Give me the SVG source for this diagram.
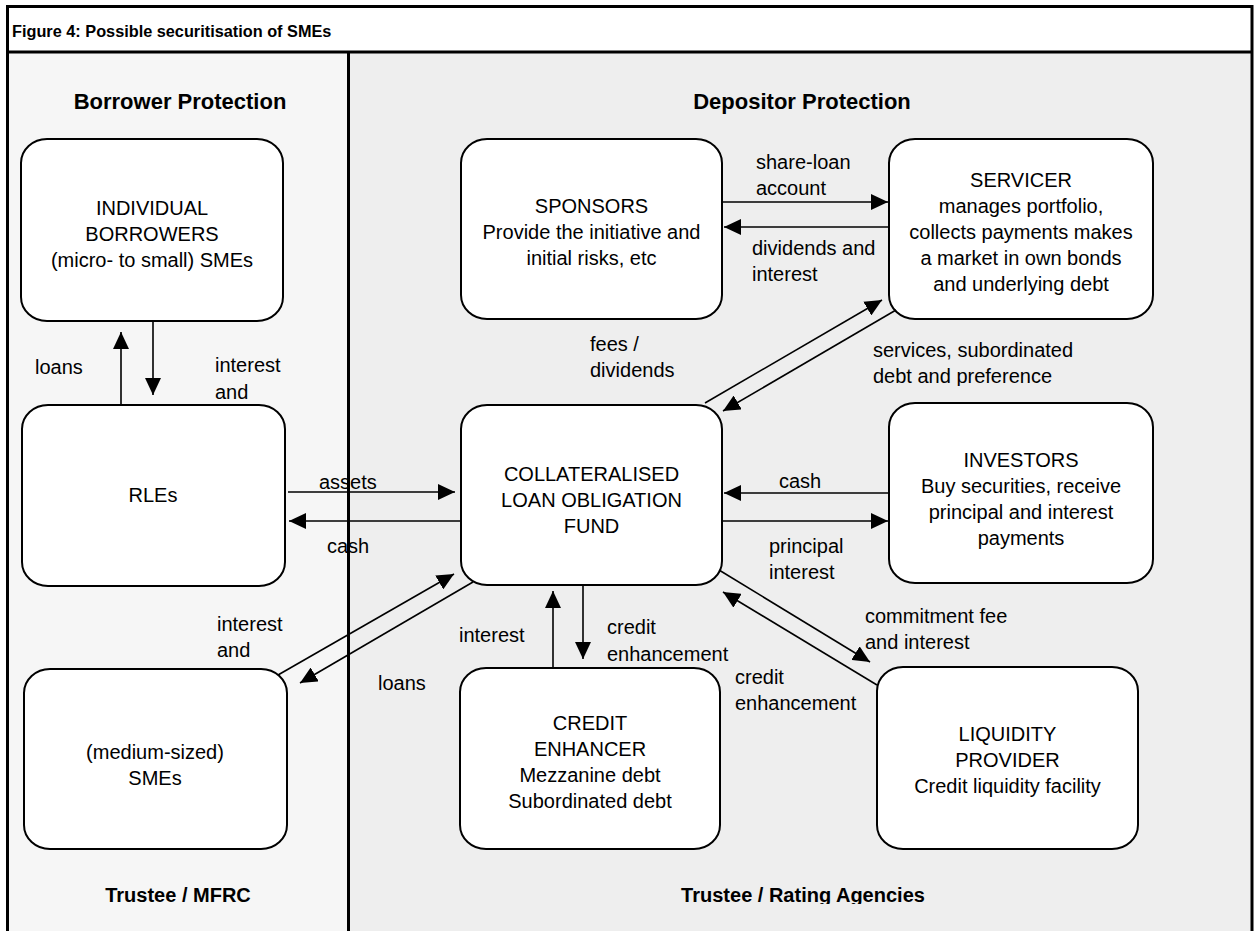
<svg xmlns="http://www.w3.org/2000/svg" width="1255" height="931" viewBox="0 0 1255 931">
<style>
  text { font-family: "Liberation Sans", Arial, Helvetica, sans-serif; fill: #000; }
  .title { font-size: 16.3px; font-weight: bold; }
  .head { font-size: 22px; font-weight: bold; text-anchor: middle; }
  .foot { font-size: 20px; font-weight: bold; text-anchor: middle; }
  .node rect { fill: #fff; stroke: #000; stroke-width: 2; }
  .node text { font-size: 20px; text-anchor: middle; }
  .lbl { font-size: 20px; }
  .conn line { stroke: #000; stroke-width: 1.6; marker-end: url(#arr); }
  .frame { fill: none; stroke: #000; stroke-width: 3; }
</style>
<defs>
  <marker id="arr" viewBox="0 0 17 16" refX="17" refY="8" markerWidth="17" markerHeight="16" markerUnits="userSpaceOnUse" orient="auto">
    <path d="M0,0 L17,8 L0,16 z" fill="#000"/>
  </marker>
  <clipPath id="clipPref"><rect x="860" y="330" width="300" height="56"/></clipPath>
  <clipPath id="clipFoot"><rect x="0" y="860" width="1255" height="44"/></clipPath>
</defs>

<!-- backgrounds -->
<rect x="0" y="0" width="1255" height="931" fill="#fff"/>
<rect x="7" y="52" width="341" height="879" fill="#f6f6f6"/>
<rect x="348" y="52" width="904" height="879" fill="#eeeeee"/>
<rect x="7" y="6" width="1245" height="46" fill="#fff"/>

<!-- frame -->
<g id="frame">
  <path class="frame" d="M7.5,931 V6.5 H1252 V931"/>
  <line x1="7" y1="52" x2="1252" y2="52" stroke="#000" stroke-width="3"/>
  <line x1="348.5" y1="52" x2="348.5" y2="931" stroke="#000" stroke-width="3"/>
</g>

<text class="title" x="12" y="37">Figure 4: Possible securitisation of SMEs</text>
<text class="head" x="180" y="109">Borrower Protection</text>
<text class="head" x="802" y="109">Depositor Protection</text>
<g clip-path="url(#clipFoot)">
  <text class="foot" x="178" y="902">Trustee / MFRC</text>
  <text class="foot" x="803" y="902">Trustee / Rating Agencies</text>
</g>

<!-- nodes -->
<g id="individual" class="node">
  <rect x="21" y="139" width="262" height="182" rx="26" ry="24"/>
  <text x="152" y="215">INDIVIDUAL</text>
  <text x="152" y="241">BORROWERS</text>
  <text x="152" y="267">(micro- to small) SMEs</text>
</g>
<g id="rles" class="node">
  <rect x="22" y="405" width="263" height="181" rx="26" ry="24"/>
  <text x="153" y="502">RLEs</text>
</g>
<g id="medium" class="node">
  <rect x="24" y="669" width="263" height="180" rx="26" ry="24"/>
  <text x="155" y="759">(medium-sized)</text>
  <text x="155" y="785">SMEs</text>
</g>
<g id="sponsors" class="node">
  <rect x="461" y="139" width="261" height="180" rx="26" ry="24"/>
  <text x="591.5" y="213">SPONSORS</text>
  <text x="591.5" y="239">Provide the initiative and</text>
  <text x="591.5" y="265">initial risks, etc</text>
</g>
<g id="servicer" class="node">
  <rect x="889" y="139" width="264" height="180" rx="26" ry="24"/>
  <text x="1021" y="187">SERVICER</text>
  <text x="1021" y="213">manages portfolio,</text>
  <text x="1021" y="239">collects payments makes</text>
  <text x="1021" y="265">a market in own bonds</text>
  <text x="1021" y="291">and underlying debt</text>
</g>
<g id="clo" class="node">
  <rect x="461" y="405" width="261" height="180" rx="26" ry="24"/>
  <text x="591.5" y="481">COLLATERALISED</text>
  <text x="591.5" y="507">LOAN OBLIGATION</text>
  <text x="591.5" y="533">FUND</text>
</g>
<g id="investors" class="node">
  <rect x="889" y="403" width="264" height="180" rx="26" ry="24"/>
  <text x="1021" y="467">INVESTORS</text>
  <text x="1021" y="493">Buy securities, receive</text>
  <text x="1021" y="519">principal and interest</text>
  <text x="1021" y="545">payments</text>
</g>
<g id="credit" class="node">
  <rect x="460" y="668" width="260" height="181" rx="26" ry="24"/>
  <text x="590" y="730">CREDIT</text>
  <text x="590" y="756">ENHANCER</text>
  <text x="590" y="782">Mezzanine debt</text>
  <text x="590" y="808">Subordinated debt</text>
</g>
<g id="liquidity" class="node">
  <rect x="877" y="667" width="261" height="182" rx="26" ry="24"/>
  <text x="1007.5" y="741">LIQUIDITY</text>
  <text x="1007.5" y="767">PROVIDER</text>
  <text x="1007.5" y="793">Credit liquidity facility</text>
</g>

<!-- connectors -->
<g id="connectors" class="conn">
  <line x1="121" y1="405" x2="121" y2="332"/>
  <line x1="153" y1="321" x2="153" y2="395"/>
  <line x1="288" y1="492" x2="455" y2="492"/>
  <line x1="461" y1="521" x2="289" y2="521"/>
  <line x1="722" y1="202" x2="888" y2="202"/>
  <line x1="889" y1="227" x2="724" y2="227"/>
  <line x1="705" y1="403" x2="882" y2="300"/>
  <line x1="896" y1="310" x2="723" y2="411"/>
  <line x1="889" y1="493" x2="724" y2="493"/>
  <line x1="722" y1="521" x2="888" y2="521"/>
  <line x1="278" y1="675" x2="454" y2="574"/>
  <line x1="473" y1="582" x2="300" y2="683"/>
  <line x1="553" y1="668" x2="553" y2="591"/>
  <line x1="583" y1="585" x2="583" y2="659"/>
  <line x1="719" y1="570" x2="870" y2="662"/>
  <line x1="877" y1="685" x2="723" y2="592"/>
</g>

<!-- connector labels -->
<g id="labels">
  <text class="lbl" x="35" y="374">loans</text>
  <text class="lbl" x="215" y="372">interest</text>
  <text class="lbl" x="215" y="399">and</text>
  <text class="lbl" x="319" y="489">assets</text>
  <text class="lbl" x="327" y="553">cash</text>
  <text class="lbl" x="756" y="169">share-loan</text>
  <text class="lbl" x="756" y="195">account</text>
  <text class="lbl" x="752" y="255">dividends and</text>
  <text class="lbl" x="752" y="281">interest</text>
  <text class="lbl" x="590" y="351">fees /</text>
  <text class="lbl" x="590" y="377">dividends</text>
  <g clip-path="url(#clipPref)">
    <text class="lbl" x="873" y="357">services, subordinated</text>
    <text class="lbl" x="873" y="383">debt and preference</text>
  </g>
  <text class="lbl" x="779" y="488">cash</text>
  <text class="lbl" x="769" y="553">principal</text>
  <text class="lbl" x="769" y="579">interest</text>
  <text class="lbl" x="217" y="631">interest</text>
  <text class="lbl" x="217" y="657">and</text>
  <text class="lbl" x="378" y="690">loans</text>
  <text class="lbl" x="459" y="642">interest</text>
  <text class="lbl" x="607" y="634">credit</text>
  <text class="lbl" x="607" y="661">enhancement</text>
  <text class="lbl" x="865" y="623">commitment fee</text>
  <text class="lbl" x="865" y="649">and interest</text>
  <text class="lbl" x="735" y="684">credit</text>
  <text class="lbl" x="735" y="710">enhancement</text>
</g>
</svg>
